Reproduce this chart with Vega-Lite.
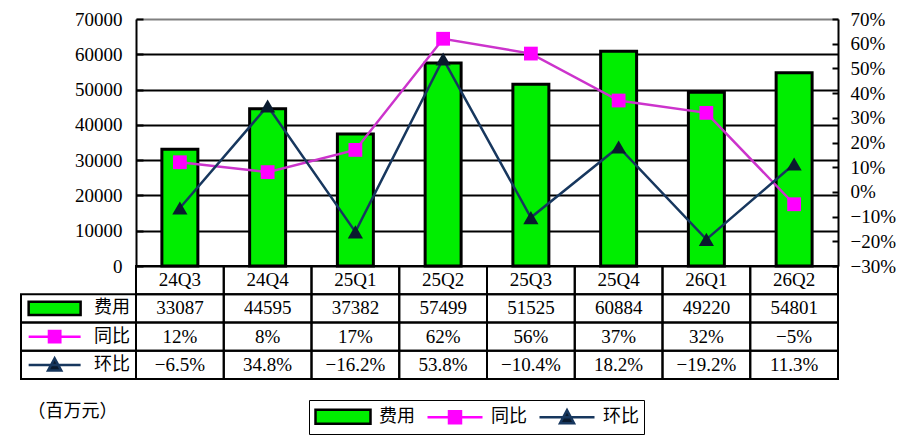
{
  "$schema": "https://vega.github.io/schema/vega-lite/v6.json",
  "padding": {"left": 20, "top": 10, "right": 0, "bottom": 0},
  "background": "white",
  "config": {
    "view": {"stroke": null},
    "text": {"font": "Liberation Serif, Noto Sans CJK SC", "fontSize": 19, "color": "#000"},
    "legend": {
      "title": null, "orient": "none", "legendX": 288, "legendY": 381, "direction": "horizontal",
      "symbolSize": 400, "symbolStrokeWidth": 2.5, "symbolOffset": 17.5,
      "labelFont": "Noto Sans CJK SC", "labelFontSize": 18, "labelColor": "#000",
      "labelOffset": 24.5, "columnPadding": 7, "padding": 5, "strokeColor": "#000"
    }
  },
  "datasets": {
    "quarters": [
      {"q": "24Q3", "fee": 33087, "yoy": 0.12, "qoq": -0.065},
      {"q": "24Q4", "fee": 44595, "yoy": 0.08, "qoq": 0.348},
      {"q": "25Q1", "fee": 37382, "yoy": 0.17, "qoq": -0.162},
      {"q": "25Q2", "fee": 57499, "yoy": 0.62, "qoq": 0.538},
      {"q": "25Q3", "fee": 51525, "yoy": 0.56, "qoq": -0.104},
      {"q": "25Q4", "fee": 60884, "yoy": 0.37, "qoq": 0.182},
      {"q": "26Q1", "fee": 49220, "yoy": 0.32, "qoq": -0.192},
      {"q": "26Q2", "fee": 54801, "yoy": -0.05, "qoq": 0.113}
    ],
    "series": [
      {"series": "费用"},
      {"series": "同比"},
      {"series": "环比"}
    ]
  },
  "columns": 2,
  "spacing": 0,
  "bounds": "flush",
  "align": "each",
  "resolve": {"scale": {"x": "independent", "y": "independent"}},
  "concat": [
    {
      "width": 115,
      "height": 247,
      "data": {"values": [{}]},
      "mark": "text",
      "encoding": {"text": {"value": ""}}
    },
    {
      "width": 702,
      "height": 247,
      "data": {"name": "quarters"},
      "encoding": {
        "x": {"field": "q", "type": "nominal", "sort": null, "axis": null,
              "scale": {"paddingInner": 0, "paddingOuter": 0}}
      },
      "layer": [
        {
          "mark": {"type": "bar", "fill": "#00ee00", "stroke": "#000", "strokeWidth": 3, "width": {"band": 0.41}},
          "encoding": {
            "y": {
              "field": "fee", "type": "quantitative",
              "scale": {"domain": [0, 70000], "nice": false},
              "axis": {
                "orient": "left", "title": null, "format": "d",
                "values": [0, 10000, 20000, 30000, 40000, 50000, 60000, 70000],
                "grid": true, "gridWidth": 2,
                "gridColor": {"condition": {"test": "datum.value === 70000", "value": "#808080"}, "value": "#000"},
                "domainColor": "#000", "domainWidth": 2,
                "tickColor": "#000", "tickWidth": 2, "tickSize": -7,
                "labelFont": "Liberation Serif", "labelFontSize": 19, "labelColor": "#000", "labelPadding": 21
              }
            }
          }
        },
        {
          "encoding": {
            "y": {
              "type": "quantitative",
              "scale": {"domain": [-0.3, 0.7], "nice": false, "zero": false},
              "axis": {
                "orient": "right", "title": null, "format": ".0%",
                "values": [-0.3, -0.2, -0.1, 0, 0.1, 0.2, 0.3, 0.4, 0.5, 0.6, 0.7],
                "grid": false,
                "domainColor": "#000", "domainWidth": 2,
                "tickColor": "#000", "tickWidth": 2, "tickSize": -6,
                "labelFont": "Liberation Serif", "labelFontSize": 19, "labelColor": "#000", "labelPadding": 18
              }
            }
          },
          "layer": [
            {
              "mark": {"type": "line", "stroke": "#cc33cc", "strokeWidth": 2.5},
              "encoding": {"y": {"field": "yoy"}}
            },
            {
              "mark": {"type": "point", "shape": "square", "filled": true, "fill": "#ff00ff", "opacity": 1, "size": 190},
              "encoding": {"y": {"field": "yoy"}}
            },
            {
              "mark": {"type": "line", "stroke": "#17375e", "strokeWidth": 2.5},
              "encoding": {"y": {"field": "qoq"}}
            },
            {
              "mark": {"type": "point", "shape": "triangle-up", "filled": true, "fill": "#0a1a2e", "opacity": 1, "size": 230},
              "encoding": {"y": {"field": "qoq"}}
            }
          ]
        }
      ],
      "resolve": {"scale": {"y": "independent"}}
    },
    {
      "width": 115,
      "height": 113,
      "data": {"name": "series"},
      "encoding": {
        "x": {"datum": "sym", "type": "nominal", "axis": null,
              "scale": {"type": "band", "domain": ["sym", "txt"], "paddingInner": 0, "paddingOuter": 0.06, "align": 1}},
        "y": {"field": "series", "type": "nominal", "axis": null,
              "scale": {"domain": ["hdr", "费用", "同比", "环比"], "paddingInner": 0, "paddingOuter": 0}}
      },
      "layer": [
        {
          "mark": {"type": "rect", "filled": false, "stroke": "#000", "strokeWidth": 2},
          "encoding": {"x": null}
        },
        {
          "mark": {"type": "point", "filled": true, "opacity": 1, "strokeWidth": 2.5, "size": 357},
          "encoding": {
            "color": {
              "field": "series", "type": "nominal",
              "scale": {"domain": ["费用", "同比", "环比"], "range": ["#00ee00", "#ff00ff", "#0a1a2e"]}
            },
            "stroke": {
              "field": "series", "type": "nominal",
              "scale": {"domain": ["费用", "同比", "环比"], "range": ["#000000", "#ff00ff", "#17375e"]}
            },
            "shape": {
              "field": "series", "type": "nominal",
              "scale": {
                "domain": ["费用", "同比", "环比"],
                "range": [
                  "M-2.75,-0.7H2.75V0.7H-2.75Z",
                  "M-2.75,0H2.75M-0.6,-0.6H0.6V0.6H-0.6Z",
                  "M-2.75,0H2.75M-0.7,0.6L0,-0.7L0.7,0.6Z"
                ]
              }
            }
          }
        },
        {
          "mark": {"type": "text", "align": "right", "dx": -6, "font": "Noto Sans CJK SC", "fontSize": 18},
          "encoding": {
            "x": {"datum": "txt", "type": "nominal", "bandPosition": 1},
            "text": {"field": "series"}
          }
        }
      ]
    },
    {
      "width": 702,
      "height": 113,
      "data": {"name": "quarters"},
      "encoding": {
        "x": {"field": "q", "type": "nominal", "sort": null, "axis": null,
              "scale": {"paddingInner": 0, "paddingOuter": 0}}
      },
      "layer": [
        {
          "transform": [{"fold": ["q", "fee", "yoy", "qoq"], "as": ["row", "v"]}],
          "mark": {"type": "rect", "filled": false, "stroke": "#000", "strokeWidth": 2},
          "encoding": {
            "y": {"field": "row", "type": "nominal", "axis": null,
                  "scale": {"domain": ["q", "fee", "yoy", "qoq"], "paddingInner": 0, "paddingOuter": 0}}
          }
        },
        {
          "mark": {"type": "text"},
          "encoding": {"y": {"datum": "q", "type": "nominal"}, "text": {"field": "q"}}
        },
        {
          "mark": {"type": "text"},
          "encoding": {"y": {"datum": "fee", "type": "nominal"}, "text": {"field": "fee", "type": "quantitative", "format": "d"}}
        },
        {
          "mark": {"type": "text"},
          "encoding": {"y": {"datum": "yoy", "type": "nominal"}, "text": {"field": "yoy", "type": "quantitative", "format": ".0%"}}
        },
        {
          "mark": {"type": "text"},
          "encoding": {"y": {"datum": "qoq", "type": "nominal"}, "text": {"field": "qoq", "type": "quantitative", "format": ".1%"}}
        }
      ]
    },
    {
      "width": 115,
      "height": 66,
      "data": {"values": [{"t": "（百万元）"}]},
      "mark": {"type": "text", "font": "Noto Sans CJK SC", "fontSize": 18, "dx": -6},
      "encoding": {"text": {"field": "t"}}
    }
  ]
}
